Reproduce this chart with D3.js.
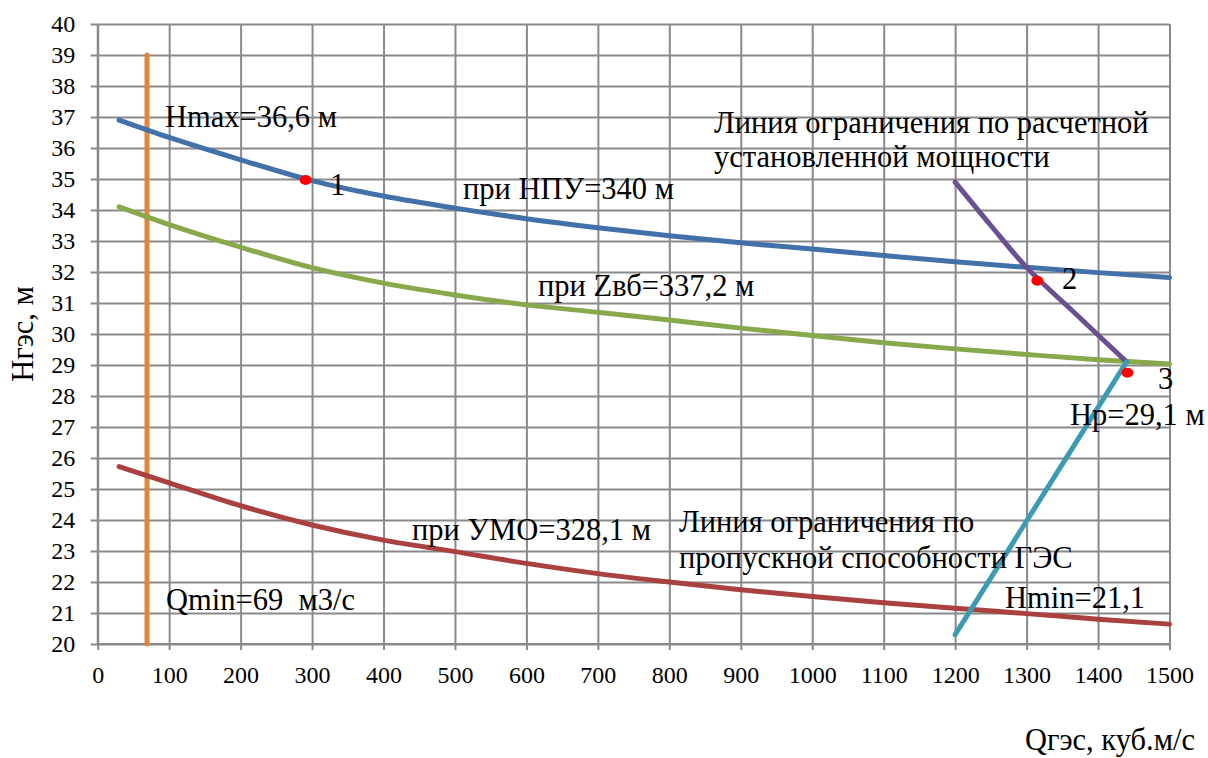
<!DOCTYPE html>
<html>
<head>
<meta charset="utf-8">
<script src="https://cdn.jsdelivr.net/npm/d3@7"></script>
<style>
  html, body { margin: 0; padding: 0; background: #fff; }
  svg { display: block; }
  svg text { font-family: "Liberation Serif", "Times New Roman", serif; fill: #000; }
</style>
</head>
<body>
<svg id="chart" width="1208" height="758"></svg>
<script>
// Axis ticks
const qTicks = [0, 100, 200, 300, 400, 500, 600, 700, 800, 900, 1000, 1100, 1200, 1300, 1400, 1500];
const hTicks = [20, 21, 22, 23, 24, 25, 26, 27, 28, 29, 30, 31, 32, 33, 34, 35, 36, 37, 38, 39, 40];

// Head vs discharge curves, Q in m3/s, H in m
const qCurve = [30, 100, 200, 300, 400, 500, 600, 700, 800, 900, 1000, 1100, 1200, 1300, 1400, 1500];
const hNPU = [36.9, 36.34, 35.62, 34.95, 34.45, 34.06, 33.72, 33.43, 33.17, 32.94, 32.74, 32.53, 32.33, 32.15, 31.98, 31.82];
const hZvb = [34.1, 33.53, 32.8, 32.14, 31.64, 31.26, 30.94, 30.7, 30.45, 30.19, 29.95, 29.72, 29.52, 29.34, 29.17, 29.03];
const hUMO = [25.72, 25.2, 24.46, 23.84, 23.35, 22.98, 22.6, 22.27, 22.0, 21.75, 21.53, 21.33, 21.15, 20.98, 20.8, 20.64];

// Limit lines
const qPower = [1200, 1250, 1300, 1370, 1440];
const hPower = [34.9, 33.5, 32.15, 30.62, 29.1];
const qCapacity = [1200, 1440];
const hCapacity = [20.3, 29.1];
const qMinLine = [69, 69];
const hMinLine = [20, 39];

// Characteristic points 1, 2, 3
const pointQ = [291, 1315, 1441];
const pointH = [34.97, 31.72, 28.75];

const svg = d3.select("#chart");
const x = d3.scaleLinear().domain([0, 1500]).range([97.7, 1169.5]);
const y = d3.scaleLinear().domain([20, 40]).range([644, 24]);
const plotL = x(0), plotR = x(1500), plotT = y(40), plotB = y(20);

const gridColor = "#8a8a8a";

// Grid lines
svg.append("g")
  .attr("transform", `translate(${plotL},0)`)
  .call(d3.axisLeft(y).tickValues(hTicks).tickSize(-(plotR - plotL)).tickFormat(""))
  .call(g => g.select(".domain").remove())
  .call(g => g.selectAll("line").attr("stroke", gridColor).attr("stroke-width", 2));
svg.append("g")
  .attr("transform", `translate(0,${plotB})`)
  .call(d3.axisBottom(x).tickValues(qTicks).tickSize(-(plotB - plotT)).tickFormat(""))
  .call(g => g.select(".domain").remove())
  .call(g => g.selectAll("line").attr("stroke", gridColor).attr("stroke-width", 2));

// Axes with outer ticks and labels
const yAxis = svg.append("g")
  .attr("transform", `translate(${plotL},0)`)
  .call(d3.axisLeft(y).tickValues(hTicks).tickSize(7).tickPadding(15.5).tickFormat(d3.format("d")));
const xAxis = svg.append("g")
  .attr("transform", `translate(0,${plotB})`)
  .call(d3.axisBottom(x).tickValues(qTicks).tickSize(6).tickPadding(16).tickFormat(d3.format("d")));
[yAxis, xAxis].forEach(g => {
  g.attr("font-family", null).attr("font-size", null);
  g.select(".domain").attr("stroke", gridColor).attr("stroke-width", 2);
  g.selectAll(".tick line").attr("stroke", gridColor).attr("stroke-width", 2);
  g.selectAll("text").style("font-size", "24px").attr("fill", "#000");
});
xAxis.select(".domain").attr("d", `M${plotL},0H${plotR}`);
yAxis.select(".domain").attr("d", `M0,${plotB}V${plotT}`);

// Curves
const line = d3.line().x(d => x(d[0])).y(d => y(d[1]));
const smooth = d3.line().x(d => x(d[0])).y(d => y(d[1])).curve(d3.curveMonotoneX);
const zip = (qs, hs) => qs.map((q, i) => [q, hs[i]]);

const series = [
  { pts: zip(qMinLine, hMinLine), color: "#e0853a", gen: line },
  { pts: zip(qCurve, hUMO), color: "#a8413f", gen: smooth },
  { pts: zip(qCurve, hZvb), color: "#87a84b", gen: smooth },
  { pts: zip(qCurve, hNPU), color: "#4270a8", gen: smooth },
  { pts: zip(qPower, hPower), color: "#6a5090", gen: d3.line().x(d => x(d[0])).y(d => y(d[1])).curve(d3.curveCatmullRom) },
  { pts: zip(qCapacity, hCapacity), color: "#3c9ab2", gen: line }
];
svg.append("g").selectAll("path").data(series).join("path")
  .attr("d", s => s.gen(s.pts))
  .attr("fill", "none")
  .attr("stroke", s => s.color)
  .attr("stroke-width", 5)
  .attr("stroke-linecap", "round")
  .attr("stroke-linejoin", "round");

// Characteristic points
svg.append("g").selectAll("ellipse").data(zip(pointQ, pointH)).join("ellipse")
  .attr("cx", d => x(d[0])).attr("cy", d => y(d[1]))
  .attr("rx", 6).attr("ry", 5)
  .attr("fill", "#ff0000");

// Annotations
const notes = [
  { t: "Hmax=36,6 м", x: 165, y: 127 },
  { t: "1", x: 330, y: 195 },
  { t: "при НПУ=340 м", x: 463, y: 199 },
  { t: "Линия ограничения по расчетной", x: 714, y: 133 },
  { t: "установленной мощности", x: 714, y: 167 },
  { t: "2", x: 1062, y: 289 },
  { t: "при Zвб=337,2 м", x: 538, y: 296 },
  { t: "3", x: 1158, y: 389 },
  { t: "Нр=29,1 м", x: 1070, y: 425 },
  { t: "при УМО=328,1 м", x: 412, y: 540 },
  { t: "Линия ограничения по", x: 679, y: 532 },
  { t: "пропускной способности ГЭС", x: 679, y: 568 },
  { t: "Hmin=21,1", x: 1005, y: 608 },
  { t: "Qmin=69  м3/с", x: 166, y: 610 }
];
svg.append("g").selectAll("text").data(notes).join("text")
  .attr("x", d => d.x).attr("y", d => d.y)
  .style("font-size", "30.5px")
  .style("white-space", "pre")
  .text(d => d.t);

// Axis titles
svg.append("text")
  .attr("transform", "translate(33,334) rotate(-90)")
  .attr("text-anchor", "middle")
  .style("font-size", "30.5px")
  .text("Нгэс, м");
svg.append("text")
  .attr("x", 1195).attr("y", 750)
  .attr("text-anchor", "end")
  .style("font-size", "30.5px")
  .text("Qгэс, куб.м/с");
</script>
</body>
</html>
